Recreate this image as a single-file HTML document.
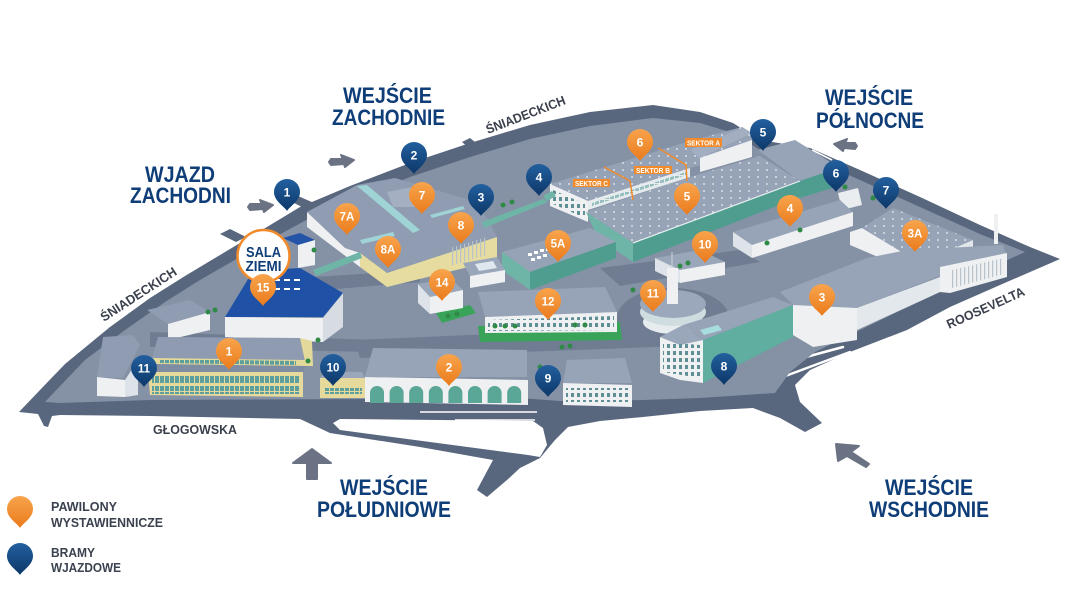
<!DOCTYPE html>
<html><head><meta charset="utf-8">
<style>
html,body{margin:0;padding:0;background:#fff;}
svg{display:block;}
text{font-family:"Liberation Sans",sans-serif;font-weight:bold;}
</style></head><body>
<svg width="1080" height="598" viewBox="0 0 1080 598" xmlns="http://www.w3.org/2000/svg">
<defs>
<linearGradient id="og" x1="0" y1="0" x2="0" y2="1"><stop offset="0" stop-color="#f8a44c"/><stop offset="1" stop-color="#ea7b1c"/></linearGradient>
<linearGradient id="bg" x1="0" y1="0" x2="0" y2="1"><stop offset="0" stop-color="#23609f"/><stop offset="1" stop-color="#0c3768"/></linearGradient>
<path id="pin" d="M0,19 C-3,14 -13,9 -13,0 A13,13 0 0 1 13,0 C13,9 3,14 0,19 Z"/>
<pattern id="dots" width="9" height="7" patternUnits="userSpaceOnUse"><circle cx="2" cy="2" r="0.9" fill="#fff" opacity="0.85"/></pattern>
<pattern id="win" width="5" height="8" patternUnits="userSpaceOnUse"><rect width="4" height="7" fill="#5c9f9d"/></pattern>
<pattern id="winw" width="6" height="7" patternUnits="userSpaceOnUse"><rect x="1" y="1" width="3" height="4" fill="#5f8f95"/></pattern>
<pattern id="vline" width="4" height="10" patternUnits="userSpaceOnUse"><rect width="1.2" height="10" fill="#b9c3cb"/></pattern>
</defs>

<!-- road (outer) -->
<polygon fill="#59677e" points="19,412 40,390 65,364 110,327 150,298 185,276 225,252 262,230 300,207 350,186 410,163 470,143 530,125 590,112 653,105 700,112 733,123 760,140 810,148 860,170 920,197 980,225 1030,247 1060,259 1000,285 950,307 907,330 850,352 810,370 795,385 800,402 822,423 805,432 780,418 753,408 700,411 643,417 600,421 568,427 555,440 540,458 520,468 507,480 487,497 477,490 493,460 420,447 330,433 300,419 150,416 60,415 52,416 48,427 44,426 38,414"/>
<!-- road stubs -->
<polygon fill="#59677e" points="220,234 230,229 246,237 236,242"/>
<polygon fill="#59677e" points="288,200 298,196 314,203 302,207"/>
<polygon fill="#59677e" points="462,142 470,138 480,146 470,149"/>
<!-- island -->
<polygon fill="#fff" points="333,423 340,419 533,421 543,428 547,445 540,457 528,455 430,442 340,430"/>
<!-- lane gaps -->
<line x1="420" y1="412" x2="537" y2="412" stroke="#fff" stroke-width="1.6"/>
<line x1="455" y1="420" x2="535" y2="420" stroke="#fff" stroke-width="1.6"/>
<line x1="780" y1="364" x2="843" y2="347" stroke="#fff" stroke-width="2.5" stroke-linecap="round"/>
<line x1="780" y1="378" x2="850" y2="352" stroke="#fff" stroke-width="2.5" stroke-linecap="round"/>
<line x1="998" y1="243" x2="1020" y2="253" stroke="#fff" stroke-width="1.6"/>
<line x1="812" y1="150" x2="832" y2="160" stroke="#fff" stroke-width="1.6"/>

<!-- ground -->
<polygon fill="#8591a5" points="45,402 62,384 85,360 125,330 165,302 200,280 240,257 275,237 310,218 355,199 410,177 470,157 530,139 590,126 653,118 700,123 733,133 760,150 810,158 860,180 920,207 980,234 1025,252 990,268 940,292 895,313 850,335 815,352 790,372 775,393 700,398 643,400 560,401 520,398 380,399 150,400 60,403"/>
<!-- internal roads -->
<polygon fill="#6f7c92" points="355,340 650,327 655,347 360,358"/>
<polygon fill="#6f7c92" points="150,332 375,340 372,352 150,347"/>
<ellipse cx="673" cy="318" rx="56" ry="30" fill="#6f7c92"/>
<polygon fill="#6f7c92" points="600,268 740,250 760,262 620,286"/>
<polygon fill="#6f7c92" points="270,292 300,278 420,270 420,282 300,292"/>

<!-- ===== BUILDINGS ===== -->
<!-- NE gate building -->
<polygon fill="#97a4b8" points="758,150 795,140 832,163 832,170 800,181"/>
<polygon fill="#4f9d8f" points="800,181 832,170 832,188 800,198"/>
<polygon fill="#e9edf0" points="838,193 858,188 862,205 842,210"/>

<!-- sector building -->
<polygon fill="#96a3b7" points="550,184 690,141 742,127 752,133 752,150 690,168 588,201"/>
<polygon fill="url(#dots)" points="550,184 690,141 742,127 752,133 752,150 690,168 588,201"/>
<polygon fill="#eef0f2" points="550,184 588,201 588,222 550,206"/>
<polygon fill="url(#winw)" points="553,190 585,204 585,218 553,204"/>
<polygon fill="#a3afc1" points="690,150 742,128 752,133 700,158"/>
<polygon fill="#eef0f2" points="700,158 752,140 752,157 700,172"/>
<polygon fill="#e6ecee" points="588,201 690,168 690,177 588,210"/>
<polygon fill="url(#win)" opacity="0.6" points="592,203 686,172 686,175 592,206"/>

<!-- main hall -->
<polygon fill="#97a4b8" points="586,212 690,177 760,156 800,181 633,243"/>
<polygon fill="url(#dots)" points="586,212 690,177 760,156 800,181 633,243"/>
<polygon fill="#4f9d8f" points="633,243 800,181 800,197 633,262"/>
<polygon fill="#6fb5a7" points="586,212 633,243 633,262 598,238"/>
<line x1="633" y1="243" x2="800" y2="181" stroke="#e8f2f0" stroke-width="1.2"/>

<!-- sector labels -->
<polyline points="604,167 630,181 633,200" fill="none" stroke="#f08a2a" stroke-width="1.5"/>
<polyline points="658,148 686,165 687,181" fill="none" stroke="#f08a2a" stroke-width="1.5"/>
<rect x="685" y="138" width="37" height="9" fill="#f08a2a"/>
<text x="703.5" y="145.5" font-size="7.5" fill="#fff" text-anchor="middle" textLength="33" lengthAdjust="spacingAndGlyphs">SEKTOR A</text>
<rect x="634" y="166" width="38" height="8" fill="#f08a2a"/>
<text x="653" y="172.8" font-size="7.5" fill="#fff" text-anchor="middle" textLength="34" lengthAdjust="spacingAndGlyphs">SEKTOR B</text>
<rect x="573" y="179" width="37" height="8" fill="#f08a2a"/>
<text x="591.5" y="185.8" font-size="7.5" fill="#fff" text-anchor="middle" textLength="33" lengthAdjust="spacingAndGlyphs">SEKTOR C</text>

<!-- NW complex -->
<polygon fill="#8f9cb1" points="307,212 357,185 395,178 470,200 487,218 497,237 387,273 360,253 345,248"/>
<polygon fill="#a4b0c2" points="387,192 413,187 420,207 393,207"/>
<polygon fill="#9fd3d6" points="357,186 367,185 420,230 413,233"/>
<polygon fill="#9fd3d6" points="430,215 463,206 465,209 432,218"/>
<polygon fill="#9fd3d6" points="360,240 393,232 395,236 362,244"/>
<polygon fill="#eef0f2" points="307,212 345,248 360,253 360,267 307,227"/>
<polygon fill="#e6dc9f" points="360,253 387,273 497,237 497,260 387,287 360,267"/>
<polygon fill="url(#vline)" points="450,248 487,237 487,255 450,266"/>
<polygon fill="#6fb5a7" points="313,270 360,252 362,258 316,276"/>
<polygon fill="#6fb5a7" points="482,222 543,199 548,202 484,228"/>
<polygon fill="#6fb5a7" points="543,196 552,191 556,196 547,201"/>

<!-- 5A -->
<polygon fill="#96a3b7" points="502,252 590,228 616,242 530,272"/>
<polygon fill="#6fb5a7" points="502,252 530,272 530,290 502,270"/>
<polygon fill="#4f9d8f" points="530,272 616,242 616,258 530,290"/>
<g fill="#fff"><rect x="528" y="253" width="4" height="3"/><rect x="534" y="251" width="4" height="3"/><rect x="540" y="249" width="4" height="3"/><rect x="531" y="258" width="4" height="3"/><rect x="537" y="256" width="4" height="3"/><rect x="543" y="254" width="4" height="3"/><rect x="546" y="248" width="4" height="3"/></g>

<!-- small building between -->
<polygon fill="#9aa6b9" points="463,263 497,257 505,270 470,276"/>
<polygon fill="#dfe7ef" points="475,264 493,261 497,268 479,271"/>
<polygon fill="#eef0f2" points="470,276 505,270 505,282 470,288"/>

<!-- 10 building -->
<polygon fill="#9aa6b9" points="655,258 700,250 725,262 680,270"/>
<polygon fill="#eef0f2" points="680,270 725,262 725,275 680,283"/>
<polygon fill="#dde3e8" points="655,258 680,270 680,283 655,271"/>

<!-- 4 building -->
<polygon fill="#97a4b8" points="733,232 840,200 853,212 752,245"/>
<polygon fill="#dde3e8" points="733,232 752,245 752,258 733,246"/>
<polygon fill="#eef0f2" points="752,245 853,212 853,226 752,258"/>

<!-- 3A -->
<polygon fill="#eef0f2" points="850,232 862,228 920,263 920,275 850,245"/>
<polygon fill="#97a4b8" points="862,228 893,208 973,240 920,263"/>
<polygon fill="url(#dots)" points="862,228 893,208 973,240 920,263"/>
<polygon fill="#e2e7eb" points="920,263 973,240 973,250 920,273"/>
<rect x="994" y="214" width="4" height="30" fill="#eef0f2"/>

<!-- 3 building -->
<polygon fill="#97a4b8" points="780,292 867,258 907,250 1003,245 1007,258 937,277 857,308 793,305"/>
<polygon fill="#eef0f2" points="793,305 857,308 857,340 813,347 793,335"/>
<polygon fill="#e3e8ec" points="857,308 940,277 940,292 857,330"/>
<polygon fill="#eef0f2" points="940,267 1007,253 1007,277 950,293 940,292"/>
<polygon fill="url(#vline)" points="952,270 1004,258 1004,274 952,288"/>

<!-- round building 11 -->
<ellipse cx="673" cy="322" rx="30" ry="12" fill="#e7ecef"/>
<ellipse cx="673" cy="312" rx="33" ry="14" fill="#cfdde0"/>
<ellipse cx="673" cy="304" rx="33" ry="14" fill="#9ba8bb"/>
<rect x="667" y="268" width="11" height="36" fill="#eef0f2"/>
<line x1="672" y1="252" x2="672" y2="268" stroke="#cfd6dc" stroke-width="1"/>

<!-- teal building with 8 -->
<polygon fill="#97a4b8" points="683,325 773,297 793,305 703,340"/>
<polygon fill="#a8dde0" points="700,330 718,325 722,330 704,335"/>
<polygon fill="#5fae9f" points="703,340 793,305 793,337 703,383"/>
<polygon fill="#9aa6b9" points="660,337 683,325 703,340 680,345"/>
<polygon fill="#eef0f2" points="660,337 680,345 703,340 703,383 680,380 660,373"/>
<polygon fill="url(#winw)" points="663,342 700,345 700,378 663,372"/>

<!-- 14 -->
<polygon fill="#3aa35a" points="436,313 470,305 476,313 442,323"/>
<polygon fill="#9aa6b9" points="418,284 450,278 463,290 430,297"/>
<polygon fill="#dde3e8" points="418,284 430,297 430,314 418,303"/>
<polygon fill="#eef0f2" points="430,297 463,290 463,308 430,314"/>

<!-- 12 -->
<polygon fill="#3aa35a" points="478,326 620,322 622,340 480,342"/>
<polygon fill="#97a4b8" points="478,292 605,287 617,312 485,317"/>
<polygon fill="#eef0f2" points="485,317 617,312 617,332 485,333"/>
<polygon fill="url(#winw)" points="488,320 614,316 614,330 488,331"/>

<!-- Sala Ziemi -->
<polygon fill="#2354a8" points="283,238 300,233 315,240 298,245"/>
<polygon fill="#eef0f2" points="298,245 315,240 315,265 298,268"/>
<polygon fill="#1f52a6" points="225,317 253,271 300,268 343,293 323,317"/>
<g fill="#fff"><rect x="274" y="279" width="6" height="2"/><rect x="284" y="279" width="6" height="2"/><rect x="294" y="279" width="6" height="2"/><rect x="274" y="288" width="6" height="2"/><rect x="284" y="288" width="6" height="2"/><rect x="294" y="288" width="6" height="2"/></g>
<polygon fill="#eef0f2" points="225,317 323,318 323,342 225,337"/>
<polygon fill="#d6dce2" points="323,318 343,293 343,327 323,342"/>

<!-- left buildings -->
<polygon fill="#8f9cb1" points="147,310 190,300 210,312 168,324"/>
<polygon fill="#eef0f2" points="168,324 210,312 210,330 168,340"/>
<polygon fill="#8f9cb1" points="103,337 133,335 140,345 123,378 97,377"/>
<polygon fill="#eef0f2" points="97,377 125,380 125,397 97,396"/>
<polygon fill="#dde3e8" points="125,380 138,360 138,395 125,397"/>

<!-- building 1 -->
<polygon fill="#8e9bb0" points="158,337 300,338 306,360 152,358"/>
<polygon fill="#e3d99a" points="152,358 306,360 306,366 152,364"/>
<polygon fill="url(#win)" points="160,359 296,361 296,365 160,363"/>
<polygon fill="#e3d99a" points="300,338 312,341 313,366 306,366"/>
<polygon fill="#7f8da3" points="150,364 306,366 303,372 148,372"/>
<polygon fill="#e5da9c" points="148,372 303,372 303,397 150,395"/>
<rect x="152" y="376" width="148" height="8" fill="url(#win)"/>
<rect x="152" y="386" width="148" height="8" fill="url(#win)"/>

<!-- building 10 small -->
<polygon fill="#9aa6b9" points="325,372 362,372 365,378 320,378"/>
<polygon fill="#e5da9c" points="320,378 365,378 365,398 320,398"/>
<rect x="324" y="388" width="38" height="6" fill="url(#win)"/>

<!-- building 2 -->
<polygon fill="#97a4b8" points="373,348 527,350 527,377 365,377"/>
<polygon fill="#eef0f2" points="365,377 528,380 528,405 365,402"/>
<g fill="#5aa697">
<path d="M370,403 v-10 a7,7 0 0 1 14,0 v10z"/>
<path d="M389.6,403 v-10 a7,7 0 0 1 14,0 v10z"/>
<path d="M409.2,403 v-10 a7,7 0 0 1 14,0 v10z"/>
<path d="M428.8,403 v-10 a7,7 0 0 1 14,0 v10z"/>
<path d="M448.4,403 v-10 a7,7 0 0 1 14,0 v10z"/>
<path d="M468,403 v-10 a7,7 0 0 1 14,0 v10z"/>
<path d="M487.6,403 v-10 a7,7 0 0 1 14,0 v10z"/>
<path d="M507.2,403 v-10 a7,7 0 0 1 14,0 v10z"/>
</g>

<!-- building 9 -->
<polygon fill="#97a4b8" points="567,360 625,358 632,383 563,383"/>
<polygon fill="#eef0f2" points="563,383 632,385 632,407 563,405"/>
<rect x="566" y="388" width="62" height="14" fill="url(#winw)"/>

<!-- trees -->
<g fill="#2f8a45">
<circle cx="314" cy="250" r="2.5"/><circle cx="208" cy="312" r="2.5"/><circle cx="215" cy="310" r="2.5"/><circle cx="318" cy="340" r="2.5"/><circle cx="308" cy="361" r="2.5"/>
<circle cx="503" cy="205" r="2.5"/><circle cx="512" cy="202" r="2.5"/><circle cx="448" cy="316" r="2.5"/><circle cx="457" cy="314" r="2.5"/>
<circle cx="495" cy="326" r="2.5"/><circle cx="505" cy="326" r="2.5"/><circle cx="515" cy="326" r="2.5"/><circle cx="575" cy="325" r="2.5"/><circle cx="585" cy="325" r="2.5"/>
<circle cx="562" cy="347" r="2.5"/><circle cx="570" cy="346" r="2.5"/><circle cx="540" cy="367" r="2.5"/>
<circle cx="680" cy="266" r="2.5"/><circle cx="688" cy="263" r="2.5"/><circle cx="767" cy="243" r="2.5"/><circle cx="800" cy="230" r="2.5"/>
<circle cx="845" cy="187" r="2.5"/><circle cx="873" cy="198" r="2.5"/><circle cx="633" cy="290" r="2.5"/>
</g>

<!-- ===== PINS ===== -->
<g fill="url(#og)">
<use href="#pin" x="229" y="351"/><use href="#pin" x="449" y="367"/><use href="#pin" x="822" y="297"/>
<use href="#pin" x="915" y="233"/><use href="#pin" x="790" y="208"/><use href="#pin" x="687" y="196"/>
<use href="#pin" x="558" y="243"/><use href="#pin" x="640" y="142"/><use href="#pin" x="422" y="195"/>
<use href="#pin" x="347" y="216"/><use href="#pin" x="461" y="225"/><use href="#pin" x="388" y="249"/>
<use href="#pin" x="705" y="244"/><use href="#pin" x="653" y="293"/><use href="#pin" x="548" y="301"/>
<use href="#pin" x="442" y="282"/>
</g>
<g fill="url(#bg)">
<use href="#pin" x="287" y="192"/><use href="#pin" x="414" y="155"/><use href="#pin" x="481" y="197"/>
<use href="#pin" x="539" y="177"/><use href="#pin" x="763" y="132"/><use href="#pin" x="836" y="173"/>
<use href="#pin" x="886" y="190"/><use href="#pin" x="724" y="366"/><use href="#pin" x="548" y="378"/>
<use href="#pin" x="333" y="367"/><use href="#pin" x="144" y="368"/>
</g>
<g fill="#fff" font-size="12" text-anchor="middle">
<text x="229" y="355.5">1</text><text x="449" y="371.5">2</text><text x="822" y="301.5">3</text>
<text x="915" y="237.5" font-size="11.5">3A</text><text x="790" y="212.5">4</text><text x="687" y="200.5">5</text>
<text x="558" y="247.5" font-size="11.5">5A</text><text x="640" y="146.5">6</text><text x="422" y="199.5">7</text>
<text x="347" y="220.5" font-size="11.5">7A</text><text x="461" y="229.5">8</text><text x="388" y="253.5" font-size="11.5">8A</text>
<text x="705" y="248.5" font-size="11.5">10</text><text x="653" y="297.5" font-size="11.5">11</text><text x="548" y="305.5" font-size="11.5">12</text>
<text x="442" y="286.5" font-size="11.5">14</text>
<text x="287" y="196.5">1</text><text x="414" y="159.5">2</text><text x="481" y="201.5">3</text>
<text x="539" y="181.5">4</text><text x="763" y="136.5">5</text><text x="836" y="177.5">6</text>
<text x="886" y="194.5">7</text><text x="724" y="370.5">8</text><text x="548" y="382.5">9</text>
<text x="333" y="371.5" font-size="11.5">10</text><text x="144" y="372.5" font-size="11.5">11</text>
</g>

<!-- SALA ZIEMI badge -->
<circle cx="263.5" cy="256" r="26" fill="#fff" stroke="#f08a2a" stroke-width="2.5"/>
<text x="263.5" y="257" font-size="14.5" fill="#0f3d78" text-anchor="middle" textLength="35" lengthAdjust="spacingAndGlyphs">SALA</text>
<text x="263.5" y="271" font-size="14.5" fill="#0f3d78" text-anchor="middle" textLength="36" lengthAdjust="spacingAndGlyphs">ZIEMI</text>
<use href="#pin" x="263" y="287" fill="url(#og)"/>
<text x="263" y="291.5" font-size="11.5" fill="#fff" text-anchor="middle">15</text>

<!-- ===== ARROWS ===== -->
<g fill="#6b7283" stroke="#6b7283" stroke-width="2" stroke-linejoin="round">
<polygon points="248,207 250,204 262,204 260,200 273,205 264,212 263,209 250,210"/>
<polygon points="329,162 331,159 343,159 341,155 354,160 345,167 344,164 331,165"/>
<polygon points="857,146 855,143 845,143 847,139 834,144 843,151 844,148 855,149"/>
<polygon points="293,463 312,449 331,463 317,463 317,479 307,479 307,463"/>
<polygon points="836,444 859,446 851,452 869,464 866,467 847,456 838,461"/>
</g>

<!-- ===== TITLES ===== -->
<g fill="#0f3d78" font-size="22.5">
<text x="145" y="182" textLength="70" lengthAdjust="spacingAndGlyphs">WJAZD</text>
<text x="130" y="203" textLength="101" lengthAdjust="spacingAndGlyphs">ZACHODNI</text>
<text x="343" y="103" textLength="89" lengthAdjust="spacingAndGlyphs">WEJŚCIE</text>
<text x="332" y="125" textLength="113" lengthAdjust="spacingAndGlyphs">ZACHODNIE</text>
<text x="825" y="105" textLength="88" lengthAdjust="spacingAndGlyphs">WEJŚCIE</text>
<text x="816" y="128" textLength="108" lengthAdjust="spacingAndGlyphs">PÓŁNOCNE</text>
<text x="340" y="495" textLength="88" lengthAdjust="spacingAndGlyphs">WEJŚCIE</text>
<text x="317" y="517" textLength="134" lengthAdjust="spacingAndGlyphs">POŁUDNIOWE</text>
<text x="885" y="495" textLength="88" lengthAdjust="spacingAndGlyphs">WEJŚCIE</text>
<text x="869" y="517" textLength="120" lengthAdjust="spacingAndGlyphs">WSCHODNIE</text>
</g>

<!-- street names -->
<g fill="#3a404c" font-size="13">
<text x="153" y="434" textLength="84" lengthAdjust="spacingAndGlyphs">GŁOGOWSKA</text>
<text x="104" y="322" transform="rotate(-33 104 322)" textLength="88" lengthAdjust="spacingAndGlyphs">ŚNIADECKICH</text>
<text x="488" y="134" transform="rotate(-21 488 134)" textLength="84" lengthAdjust="spacingAndGlyphs">ŚNIADECKICH</text>
<text x="949" y="329" transform="rotate(-24 949 329)" textLength="84" lengthAdjust="spacingAndGlyphs">ROOSEVELTA</text>
</g>

<!-- legend -->
<use href="#pin" x="20" y="509" fill="url(#og)"/>
<use href="#pin" x="20" y="556" fill="url(#bg)"/>
<g fill="#3b424f" font-size="13">
<text x="51" y="511" textLength="66" lengthAdjust="spacingAndGlyphs">PAWILONY</text>
<text x="51" y="527" textLength="112" lengthAdjust="spacingAndGlyphs">WYSTAWIENNICZE</text>
<text x="51" y="557" textLength="44" lengthAdjust="spacingAndGlyphs">BRAMY</text>
<text x="51" y="572" textLength="70" lengthAdjust="spacingAndGlyphs">WJAZDOWE</text>
</g>
</svg>
</body></html>
